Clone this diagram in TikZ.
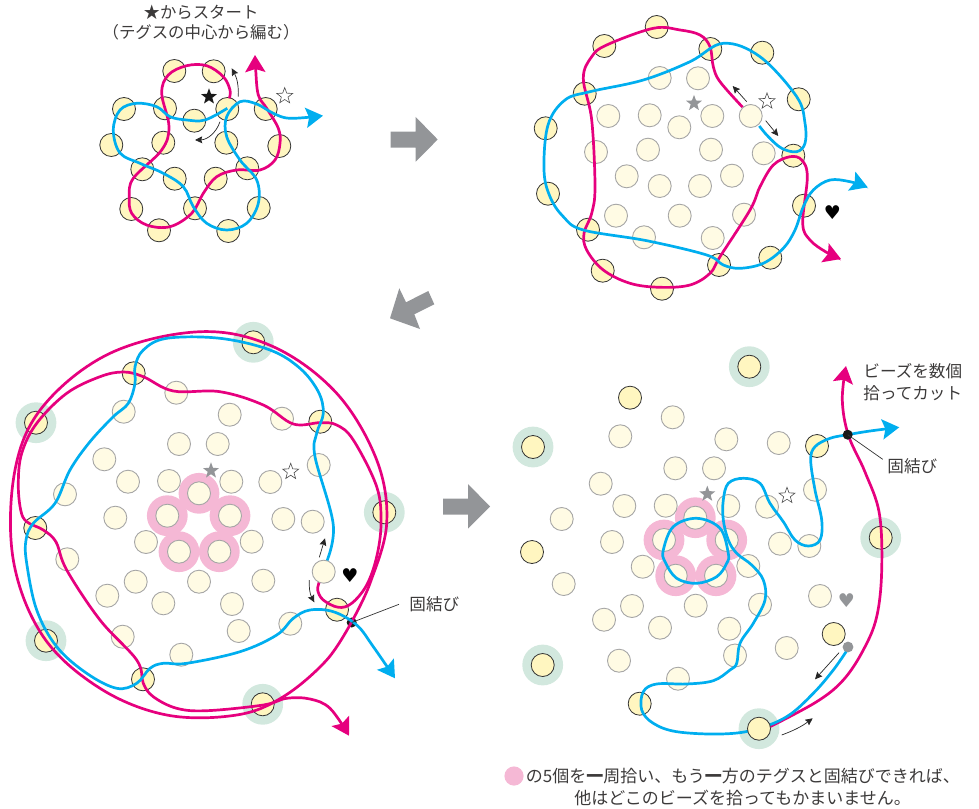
\documentclass[tikz,border=0pt]{standalone}
\usepackage{fontspec}
\newfontfamily\jpfont{Noto Sans CJK JP}
\newfontfamily\symfont{DejaVu Sans}
\usetikzlibrary{arrows.meta,shapes.geometric}
\definecolor{threadpink}{HTML}{E6007E}
\definecolor{threadblue}{HTML}{00AEEF}
\definecolor{beadyellow}{HTML}{FFF6C0}
\definecolor{beadpale}{HTML}{FFFBE4}
\definecolor{halogreen}{HTML}{D2E8DE}
\definecolor{halopink}{HTML}{F5B8D5}
\definecolor{markgray}{HTML}{939598}
\definecolor{inkgray}{HTML}{3C3A3A}
\tikzset{
    darkbead/.style={fill=beadyellow,draw=black!80,line width=.4pt},
    palebead/.style={fill=beadpale,draw=black!35,line width=.45pt},
    pinkthread/.style={draw=threadpink,line width=1.35pt},
    bluethread/.style={draw=threadblue,line width=1.35pt},
    bigtip/.style={-{Stealth[length=8.5pt,width=10pt,inset=1.5pt]}},
    smallarrow/.style={-{Stealth[length=3.6pt,width=3.4pt,inset=.5pt]},line width=.35pt,black!85},
    bigarrow/.style={fill=markgray},
    leaderline/.style={line width=.35pt,black!80},
    knotdot/.style={circle,fill=black!90,inner sep=0pt,minimum size=5pt},
    marklabel/.style={font=\jpfont\fontsize{8.3}{11}\selectfont,text=inkgray,inner sep=0pt},
    blackstar/.style={star,star points=5,star point ratio=2.4,fill=black!90,inner sep=0pt,minimum size=8.4pt},
    graystar/.style={star,star points=5,star point ratio=2.4,fill=markgray,inner sep=0pt,minimum size=8.4pt},
    whitestar/.style={star,star points=5,star point ratio=2.4,draw=black!70,line width=.3pt,fill=white,inner sep=0pt,minimum size=8.4pt},
    heartmark/.style={font=\symfont\fontsize{9.5}{10}\selectfont,inner sep=0pt}
}
\def\rb{5.75pt}
\def\rh{10.2pt}
\begin{document}
\begin{tikzpicture}[x=.5pt,y=-.5pt]
    \useasboundingbox (0,0) rectangle (979,808);

    \fill[bigarrow] (390.7,131.7)--(415.7,131.7)--(415.7,117)--(437.7,139.5)--(415.7,161.7)--(415.7,147.7)--(390.7,147.7)--cycle;
    \fill[bigarrow] (428.3,291)--(434.3,304.3)--(414.3,314.3)--(420,329)--(390,318.3)--(399.3,288.3)--(406,302.3)--cycle;
    \fill[bigarrow] (443,498.7)--(468,498.7)--(468,484)--(490,506.5)--(468,528.7)--(468,514.7)--(443,514.7)--cycle;

    % top left
    \node[marklabel,align=center,font=\jpfont\fontsize{8.2}{10}\selectfont] (startnote) at (201,23) {★からスタート\\（テグスの中心から編む）};
    \foreach \p in {(174.3,71),(213.7,71.3),(124,109),(165,108.3),(194.3,120.7),(227.3,109),(265.7,109),(111.3,145),(163.3,142.7),(226.3,142.7),(279.3,146),(142.3,169.3),(174.7,178.7),(215.7,178.7),(247.3,168.3),(131.3,209),(195,208.3),(258.7,208),(159,230.3),(228.3,231)}
        \draw[darkbead] \p circle(\rb);
    \draw[pinkthread,bigtip] plot[smooth,tension=.6] coordinates {(229.3,98.3)(230,90)(223.3,76.7)(206.7,65.7)(186.7,65.7)(168.3,75)(161.7,93.3)(169,126.7)(161.7,150)(133.3,178.3)(129.3,196.7)(131.7,213.3)(146.7,225)(170,226.7)(191.7,213.3)(203.3,193.3)(216.7,176.7)(236.7,170)(260,170)(275,160)(280,143.3)(278.3,128.3)(266.7,108.3)(258.3,95)(255.7,70)(255,55)};
    \draw[bluethread,bigtip] plot[smooth,tension=.6] coordinates {(227.3,108.3)(205,120)(186.7,120)(170,116.7)(156.7,106.7)(136.7,103.3)(120,110)(113.3,130)(120,153)(140,163.3)(163.3,173.3)(183.3,186.7)(193.3,206.7)(206.7,223.3)(226.7,230)(246.7,223.3)(258.3,203.3)(256.7,180)(240,160)(226.7,136.7)(226.7,116.7)(240,101.7)(256.7,104)(273.3,113.3)(290,118.3)(323,115.7)};
    \draw[smallarrow] (238.3,96.7) to[bend right=15] (231.7,68.3);
    \draw[smallarrow] (220,121.7) to[bend left=35] (195,140);
    \node[blackstar] (stara) at (209,96.7) {};
    \node[whitestar] (starb) at (284.7,96) {};

    % top right
    \foreach \p in {(659.7,78),(698,78.3),(608.3,116),(649.7,115.3),(679.3,127.3),(712.3,116),(596,152),(648,149.7),(711,149.7),(763.7,153.3),(626.7,176.3),(659.7,186),(700,186),(732,175.7),(616,215.7),(679.7,215.7),(744,214.7),(644,237.3),(712.7,238)}
        \draw[palebead] \p circle(\rb);
    \foreach \p in {(656.7,27),(604.3,46),(710.3,49),(762.3,52.7),(584.7,93.7),(798.7,99.3),(545.7,128.3),(793.3,155.7),(548,193.7),(804,205.7),(588,229.7),(770.3,257.7),(602.7,270.7),(719,265),(662,288.7)}
        \draw[darkbead] \p circle(\rb);
    \draw[pinkthread,bigtip] plot[smooth,tension=.6] coordinates {(742.7,107.3)(720,81.7)(713.3,66.7)(710,46.7)(700,35)(680,30)(653.3,28.3)(606.7,45)(591.7,56.7)(583.3,78.3)(591.7,120)(595,186.7)(591.7,213.3)(584,233.3)(586.7,250)(603.3,270)(630,283.3)(660,287.3)(690,285)(710,273.3)(720,256.7)(750,210)(760,186.7)(773.3,165)(790,156.7)(801.7,160)(807.3,176.7)(802.7,223.3)(810,240)(826,252)(841,259)};
    \draw[bluethread,bigtip] plot[smooth,tension=.6] coordinates {(759.3,126)(768.3,136.7)(781.7,148.3)(796.7,151.7)(805,143.3)(805,123.3)(796.7,96.7)(760,56.7)(723.3,43.3)(690,61.7)(643.3,80)(590,91.7)(565,100)(548,125)(544,170)(550,196.7)(563.3,216.7)(583.3,230)(646.7,240.7)(706.7,255)(723.3,265)(740,268.3)(763.3,263.3)(783.3,248.3)(795,230)(803.3,206.7)(813.3,190)(830,180)(850,181.7)(867.7,187.3)};
    \draw[palebead] (750.7,116) circle(\rb);
    \draw[smallarrow] (746.7,101.7) -- (732.7,86);
    \draw[smallarrow] (765.7,120.7) -- (778.3,136);
    \node[graystar] (starc) at (694,103.3) {};
    \node[whitestar] (stard) at (767,101.3) {};
    \node[heartmark] (hearta) at (832.3,212.3) {♥};

    % lower left
    \foreach \p in {(36,422.7),(253.3,342.3),(384.3,512.3),(46,640.7),(262.7,704.3)}
        \fill[halogreen] \p circle(\rh);
    \foreach \p in {(199,493.3),(167.3,515.7),(230,515.7),(179,551.7),(219.3,551.7)}
        \fill[halopink] \p circle(\rh);
    \foreach \p in {(176.3,392.7),(123.7,411.7),(229.7,414.7),(179,444),(217.7,444),(104.3,459.3),(128,481.7),(169,481),(231.3,481.7),(65,494.3),(115.3,517.7),(146,542),(282,418.7),(318.7,465),(270.3,482),(283.3,519),(312.7,521.7),(251.7,541.7),(263.3,580.7),(232,604),(238.7,631),(290.3,623.7),(67.3,559.3),(135.7,581.7),(107.3,595.7),(163.3,603.3),(199,581.7),(122.7,636.7),(181.3,654.7),(199,493.3),(167.3,515.7),(230,515.7),(179,551.7),(219.3,551.7)}
        \draw[palebead] \p circle(\rb);
    \foreach \p in {(36,422.7),(253.3,342.3),(384.3,512.3),(46,640.7),(262.7,704.3),(133.7,373.3),(35.3,528),(320.3,421.7),(143,679.3),(337,609.7)}
        \draw[darkbead] \p circle(\rb);
    \node[knotdot] (knota) at (351.7,622.5) {};
    \draw[pinkthread,bigtip] plot[smooth,tension=.6] coordinates {(320,580)(317.7,590)(323.3,600)(338.3,607.3)(351.7,603.3)(366.7,585)(376.7,556.7)(381,523.3)(376.7,486.7)(353.3,440)(336.7,425)(320,422.7)(293.3,424)(263.3,405)(220,391.7)(173.3,391)(143.3,376.7)(123.3,372)(100,376.7)(66.7,393.3)(36.7,423.3)(21.7,453.3)(18.3,483.3)(20.7,510)(26.7,521.7)(43.3,530)(56,542)(66.7,570)(100,620)(136.7,660)(143.3,683.3)(153.3,696.7)(176.7,708.3)(206.7,710.7)(263.3,705)(286.7,698.3)(310,699)(330,708.3)(349,735.7)};
    \draw[pinkthread] plot[smooth,tension=.6] coordinates {(351.7,621.7)(326.7,660)(283.3,696.7)(236.7,715)(166.7,715)(100,688.3)(43.3,636.7)(13.3,560)(15,470)(43.3,406)(110,353.3)(200,331.7)(273.3,346.7)(336.7,393.3)(376.7,460)(386.7,523.3)(370,583.3)(351.7,621.7)};
    \draw[bluethread,bigtip] plot[smooth,tension=.6] coordinates {(326,563.3)(333.3,525)(315,456.7)(316.7,433.3)(323.3,413.3)(318.3,391.7)(300,368.3)(270,350)(220,338.3)(166.7,338.3)(143.3,350)(135,366.7)(135,383.3)(128.3,403.3)(113.3,416.7)(90,441.7)(70,470)(55,503.3)(33.3,523.3)(26,540)(26.7,563.3)(36.7,610)(56.7,646.7)(86.7,673.3)(116.7,688.3)(136.7,683.3)(150,668.3)(163.3,663.3)(186.7,663.3)(240,651.7)(276.7,635)(293.3,618.3)(310,610)(333.3,611.7)(356.7,625)(373.3,646.7)(395,678.3)};
    \draw[palebead] (323.7,571.7) circle(\rb);
    \draw[smallarrow] (319.3,557.3) -- (325,538.3);
    \draw[smallarrow] (309.3,580) to[bend right=15] (314.3,602.3);
    \node[graystar] (stare) at (211,470.7) {};
    \node[whitestar] (starf) at (290.7,471.7) {};
    \node[heartmark] (heartb) at (350,575.7) {♥};
    \coordinate (leadtipa) at (399,604.3);
    \draw[leaderline] (knota.center) -- (leadtipa);
    \node[marklabel,anchor=west] (knotnotea) at (409,604) {固結び};

    % lower right
    \foreach \p in {(533,447),(749.3,366.7),(880.7,537.7),(542.7,665),(759,728.7)}
        \fill[halogreen] \p circle(\rh);
    \foreach \p in {(695.3,517.7),(664,540),(726.7,540),(675.7,575.7),(716,575.7)}
        \fill[halopink] \p circle(\rh);
    \foreach \p in {(672.7,417.3),(620.3,436.3),(726.3,439.3),(675.3,468.3),(714,468.3),(600.7,483.7),(624.3,506),(665.7,505.7),(728.3,506),(561.7,519),(612,542),(642.7,566.7),(563.7,584),(778.7,443),(815,489.7),(767,506.7),(780,543.7),(809.3,546),(748.3,566),(760,604.7),(729.3,628.7),(735,655.5),(820,596),(786.7,648),(632,606),(604,619.7),(660,627.7),(695.7,605.7),(619,660.7),(678,678.7),(695.3,517.7),(664,540),(726.7,540),(675.7,575.7),(716,575.7)}
        \draw[palebead] \p circle(\rb);
    \foreach \p in {(533,447),(749.3,366.7),(880.7,537.7),(542.7,665),(630,397.7),(532,552),(817,446),(833.7,634),(639.7,703.7)}
        \draw[darkbead] \p circle(\rb);
    \draw[pinkthread,bigtip] plot[smooth,tension=.6] coordinates {(770,726.7)(816.7,701.7)(843.3,680)(863.3,650)(876.7,616.7)(881.7,570)(879.3,513.3)(865,472)(848.3,435)(842.3,400)(846,366)};
    \draw[bluethread,bigtip] plot[smooth,tension=.6] coordinates {(846.7,650.7)(833.3,670)(813.3,693.3)(786.7,716.7)(753.3,730)(720,734)(676.7,731.7)(653.3,723.3)(641.7,710)(643.3,691.7)(656.7,684)(686.7,684)(713.3,680.7)(730,670)(736.7,663.3)(740,643.3)(753.3,623.3)(765,600)(763.3,580)(751.7,565)(736.7,553.3)(728.3,540)(723.3,520)(723.3,500)(728.3,483.3)(743.3,478.3)(760,483.3)(770,503.3)(783.3,521.7)(795,540)(808.3,546)(820,540)(821.7,520)(815,490)(810.7,460)(815,446.7)(830,438.3)(847.7,434.7)(870,431)(899.3,427.3)};
    \draw[bluethread] plot[smooth cycle,tension=.6] coordinates {(720,528.3)(728.3,553.3)(726.7,563.3)(716.7,576.7)(696.7,583.3)(676.7,578.3)(665,561.7)(663.3,550)(673.3,526.7)(696.7,518.3)};
    \draw[darkbead] (759,728.7) circle(\rb);
    \fill[markgray] (848,647) circle(2.7pt);
    \node[knotdot] (knotb) at (847.7,434.7) {};
    \draw[smallarrow] (839,652.7) -- (815,679.3);
    \draw[smallarrow] (781.7,735) to[bend right=8] (812.7,718.3);
    \node[graystar] (starg) at (707.3,494) {};
    \node[whitestar] (starh) at (787,495.7) {};
    \node[heartmark,text=markgray] (heartc) at (846.3,600.7) {♥};
    \coordinate (leadtipb) at (882.7,459.3);
    \draw[leaderline] (knotb.center) -- (leadtipb);
    \node[marklabel,anchor=west] (knotnoteb) at (887,466) {固結び};
    \node[marklabel,anchor=west,align=left] (pickupnote) at (863,382) {ビーズを数個\\拾ってカット};

    \fill[halopink] (514,776) circle(4.8pt);
    \node[marklabel,anchor=west,font=\jpfont\fontsize{8.5}{11}\selectfont] (pinknotea) at (525.5,776) {の5個を{\bfseries 一}周拾い、もう{\bfseries 一}方のテグスと固結びできれば、};
    \node[marklabel,anchor=west,font=\jpfont\fontsize{8.5}{11}\selectfont] (pinknoteb) at (574,798) {他はどこのビーズを拾ってもかまいません。};
\end{tikzpicture}
\end{document}
